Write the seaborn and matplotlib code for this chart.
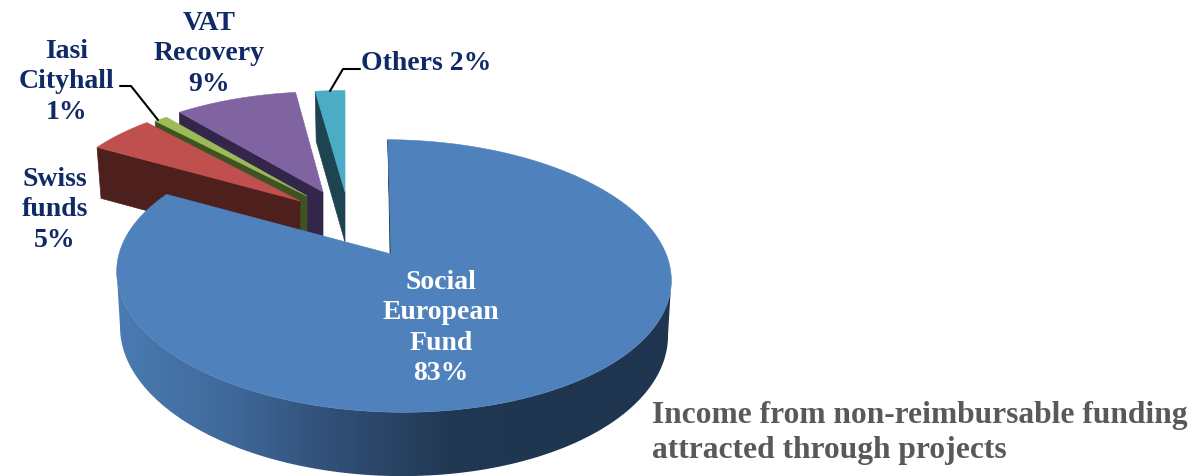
import numpy as np
import matplotlib
matplotlib.use("Agg")
import matplotlib.pyplot as plt
from matplotlib.patches import Polygon
import seaborn as sns

# ---- data ----
categories = ["Social\nEuropean\nFund", "Swiss\nfunds", "Iasi\nCityhall", "VAT\nRecovery", "Others"]
shares = [83, 5, 1, 9, 2]
title_text = "Income from non-reimbursable funding\nattracted through projects"

# ---- style ----
top_colors = ["#4F81BD", "#C0504D", "#9BBB59", "#8064A2", "#4BACC6"]
wall_colors = ["#1F3550", "#4D1F1D", "#3F5224", "#34264A", "#1F4451"]
front_ramp = ["#4A7BB2", "#40699A", "#304E75", "#213852", "#1F3550", "#1F3550"]
navy = "#0F2A66"

# view of each slice: wedge tip, ellipse centre, x and y scale, angle nudge, wall drop
tips = [(391, 255), (300, 202), (307, 197), (323, 193), (345, 193)]
centres = [(394, 255), (300, 202), (307, 197), (323, 193), (345, 193)]
scales = [(1.0, 1.0), (0.908, 0.90), (0.90, 0.86), (0.92, 0.87), (1.0, 0.88)]
nudges = [1.5, 0, 0, 0, 0]
tilts = [0.016, 0, 0, 0, 0]
drops = [54, 51, 50, 50, 50]
B, A, K = 274.0, 133.0, 0.154

sns.set_theme(style="white")
plt.rcParams["font.family"] = ["Liberation Serif", "DejaVu Serif"]

fig = plt.figure(figsize=(11.92, 4.77), dpi=100)
ax = fig.add_axes([0, 0, 1, 1])

# slice angles come from the pie layout of the library
wedges, _ = ax.pie(shares, startangle=90, counterclock=False)
angles = [(w.theta1, w.theta2) for w in wedges]
for w in wedges:
    w.remove()
ax.set_aspect("auto")
ax.set_xticks([])
ax.set_yticks([])
ax.set_frame_on(False)


def arc(theta, i):
    t = np.radians(np.asarray(theta, dtype=float) + nudges[i])
    u, v = np.cos(t), np.sin(t)
    w = 1 + K * v
    sx, sy = scales[i]
    X = sx * B * u / w
    Y = sy * A * v / w
    return centres[i][0] + X, centres[i][1] - Y + tilts[i] * X + (1 if tilts[i] else 0), 1 / w


ramp = np.array(sns.blend_palette(front_ramp, n_colors=256))

for i in [4, 3, 2, 1, 0]:
    t1, t2 = angles[i]
    th = np.linspace(t1, t2, max(int((t2 - t1) * 2), 8))
    ax_x, ax_y, s = arc(th, i)
    tip = tips[i]
    d = drops[i]

    # radial wall at the slice's left / first edge
    cx, cy = ax_x[-1], ax_y[-1]
    shift = 4 if i == 1 else 1
    ax.fill([cx, cx + shift, tip[0], tip[0]],
            [cy, cy + d * s[-1] if i == 0 else cy + d, tip[1] + d, tip[1]],
            color=wall_colors[i], lw=0.5, zorder=i * -10 + 50)

    # outer rim (only the main slice shows it), shaded from left to right
    if i == 0:
        a, b = int(np.argmin(ax_x)), int(np.argmax(ax_x)) + 1
        rim_x = ax_x - 0.012 * (ax_x - 394)
        rim_y = ax_y + d * s
        img = ax.imshow(ramp[None, :, :3], extent=(117, 672, 477, 200), aspect="auto",
                        interpolation="bilinear", zorder=i * -10 + 50)
        clip = Polygon(np.c_[np.r_[ax_x[a:b], rim_x[a:b][::-1]],
                             np.r_[ax_y[a:b], rim_y[a:b][::-1]]],
                       closed=True, transform=ax.transData)
        img.set_clip_path(clip)

    # top face
    ax.fill(np.r_[tip[0], ax_x], np.r_[tip[1], ax_y], color=top_colors[i],
            lw=0.4, zorder=i * -10 + 51)

ax.set_xlim(0, 1192)
ax.set_ylim(477, 0)
ax.set_aspect("auto")

# leader lines
ax.plot([360, 343, 330], [70, 70, 92], color="black", lw=1.5, zorder=60)
ax.plot([120, 131, 158], [87, 87, 121], color="black", lw=1.5, zorder=60)

# labels
label_fs = 20
kw = dict(fontsize=label_fs, fontweight="bold", ha="center", va="center",
          linespacing=1.27, zorder=70, multialignment="center")
ax.text(441, 328, f"{categories[0]}\n{shares[0]}%", color="white", **kw)
ax.text(55, 210, f"{categories[1]}\n{shares[1]}%", color=navy, **kw)
ax.text(67, 82, f"{categories[2]}\n{shares[2]}%", color=navy, **kw)
ax.text(209, 54, f"{categories[3]}\n{shares[3]}%", color=navy, **kw)
ax.text(361, 64, f"{categories[4]} {shares[4]}%", color=navy, fontsize=label_fs,
        fontweight="bold", ha="left", va="center", zorder=70)
ax.text(652, 433, title_text, color="#595959", fontsize=22.7, fontweight="bold",
        ha="left", va="center", linespacing=1.27, zorder=70)

fig.savefig("out.png", dpi=100, facecolor="white")
